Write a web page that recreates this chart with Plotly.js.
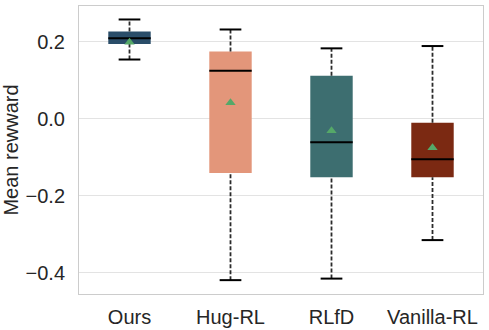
<!DOCTYPE html>
<html>
<head>
<meta charset="utf-8">
<script src="https://cdn.plot.ly/plotly-3.0.1.min.js"></script>
<style>html,body{margin:0;padding:0;background:#fff;}</style>
</head>
<body>
<div id="chart" style="width:489px;height:330px;"></div>
<script>
// Data
const categories = ["Ours", "Hug-RL", "RLfD", "Vanilla-RL"];
const lowerWhisker = [0.154, -0.419, -0.415, -0.315];
const q1 = [0.194, -0.141, -0.152, -0.152];
const medians = [0.209, 0.125, -0.061, -0.105];
const q3 = [0.227, 0.175, 0.112, -0.010];
const upperWhisker = [0.258, 0.232, 0.183, 0.189];
const means = [0.199, 0.042, -0.031, -0.075];
const boxColors = ["#2a4d69", "#e3967a", "#3d6e70", "#7b2912"];
const yTickVals = [-0.4, -0.2, 0.0, 0.2];

const BOX_W = 0.42, CAP_W = 0.215;
const idx = categories.map((_, i) => i);

const traces = [];
// whiskers (dashed)
const wx = [], wy = [];
idx.forEach(i => {
  wx.push(i, i, null, i, i, null);
  wy.push(lowerWhisker[i], q1[i], null, q3[i], upperWhisker[i], null);
});
traces.push({type: "scatter", mode: "lines", x: wx, y: wy,
  line: {color: "#2b2b2b", width: 1.8, dash: "4px,2px"}, hoverinfo: "skip"});
// boxes
traces.push({type: "bar", x: idx, base: q1, y: idx.map(i => q3[i] - q1[i]),
  width: BOX_W, marker: {color: boxColors, line: {width: 0}}, hoverinfo: "skip"});
// medians
const mx = [], my = [];
idx.forEach(i => {
  mx.push(i - BOX_W / 2, i + BOX_W / 2, null);
  my.push(medians[i], medians[i], null);
});
traces.push({type: "scatter", mode: "lines", x: mx, y: my,
  line: {color: "#000000", width: 2}, hoverinfo: "skip"});
// caps
const cx = [], cy = [];
idx.forEach(i => {
  cx.push(i - CAP_W / 2, i + CAP_W / 2, null, i - CAP_W / 2, i + CAP_W / 2, null);
  cy.push(upperWhisker[i], upperWhisker[i], null, lowerWhisker[i], lowerWhisker[i], null);
});
traces.push({type: "scatter", mode: "lines", x: cx, y: cy,
  line: {color: "#000000", width: 2}, hoverinfo: "skip"});
// means
traces.push({type: "scatter", mode: "markers", x: idx, y: means,
  marker: {symbol: "triangle-up", size: 9, color: "#55a868", line: {width: 0}}, hoverinfo: "skip"});

const font = {family: "Liberation Sans, Arial, sans-serif", size: 20, color: "#262626"};
const layout = {
  width: 489, height: 330,
  margin: {l: 79, r: 6, t: 6, b: 36},
  paper_bgcolor: "#ffffff", plot_bgcolor: "#ffffff",
  showlegend: false,
  font: font,
  xaxis: {
    range: [-0.5, 3.5], tickvals: idx, ticktext: categories,
    showgrid: false, zeroline: false, showline: true, mirror: true,
    linecolor: "#cccccc", linewidth: 1, ticks: "", ticklabelstandoff: 5,
    tickfont: font, fixedrange: true
  },
  yaxis: {
    range: [-0.455, 0.293], tickvals: yTickVals, tickformat: ".1f",
    showgrid: true, gridcolor: "#e3e3e3", gridwidth: 1, zeroline: false,
    showline: true, mirror: true, linecolor: "#cccccc", linewidth: 1,
    ticks: "", ticklabelstandoff: 9, tickfont: font,
    title: {text: "Mean rewward", font: font, standoff: 6}, fixedrange: true
  }
};
Plotly.newPlot("chart", traces, layout, {staticPlot: true, displayModeBar: false});
</script>
</body>
</html>
